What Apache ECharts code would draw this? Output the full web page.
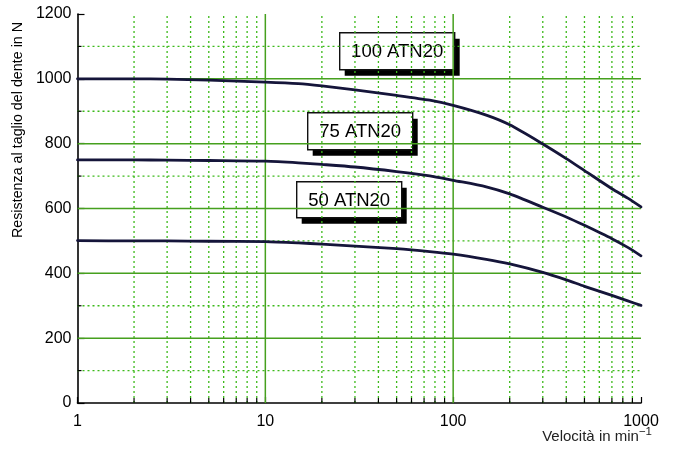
<!DOCTYPE html>
<html>
<head>
<meta charset="utf-8">
<script src="https://cdn.jsdelivr.net/npm/echarts@6/dist/echarts.min.js"></script>
<style>
  html, body { margin: 0; padding: 0; background: #fff; }
  #chart { width: 674px; height: 453px; }
</style>
</head>
<body>
<div id="chart"></div>
<script>
// Speed values (min^-1) where the curves are sampled
const speeds = [1, 2, 3, 5, 10, 15, 20, 30, 50, 75, 100, 150, 200, 300, 400, 500, 700, 850, 1000];

// Tooth shear resistance (N) per belt width
const atn100 = [1000, 1000, 999, 996, 990, 985, 978, 966, 949, 934, 918, 888, 858, 799, 754, 717, 661, 632, 605];
const atn75  = [750, 750, 749, 748, 746, 741, 736, 728, 714, 701, 687, 667, 645, 604, 574, 548, 507, 480, 454];
const atn50  = [501, 500, 500, 499, 498, 494, 490, 484, 476, 467, 459, 443, 429, 403, 380, 360, 332, 315, 301];

const seriesNames = ['100 ATN20', '75 ATN20', '50 ATN20'];

// Grid positions on the log / linear scales
const xMajor = [10, 100];
const xMinor = [2, 3, 4, 5, 6, 7, 8, 9, 20, 30, 40, 50, 60, 70, 80, 90, 200, 300, 400, 500, 600, 700, 800, 900];
const yMajor = [200, 400, 600, 800, 1000];
const yMinor = [100, 300, 500, 700, 900, 1100];
const xTicks = [1, 10, 100, 1000];

const X_MIN = 1, X_MAX = 1000, Y_MIN = 0, Y_MAX = 1200;
const MAJOR_GREEN = '#46a01e';
const MINOR_GREEN = '#3cba1a';
const CURVE = '#15153a';

const chart = echarts.init(document.getElementById('chart'), null, { renderer: 'canvas' });

function vLines(values, color, dash, width, tickLen) {
  return {
    type: 'custom',
    coordinateSystem: 'cartesian2d',
    silent: true,
    z: 1,
    data: values.map(v => [v, Y_MIN]),
    encode: { x: 0, y: 1 },
    renderItem: function (params, api) {
      const v = api.value(0);
      const a = api.coord([v, Y_MIN]);
      const b = api.coord([v, Y_MAX]);
      const children = [{
        type: 'line',
        shape: { x1: a[0], y1: a[1], x2: b[0], y2: b[1] },
        style: { stroke: color, lineWidth: width, lineDash: dash }
      }];
      if (tickLen) {
        children.push({
          type: 'line',
          shape: { x1: a[0], y1: a[1], x2: a[0], y2: a[1] - tickLen },
          style: { stroke: '#000', lineWidth: 1.2 },
          z2: 5
        });
      }
      return { type: 'group', children: children };
    }
  };
}

function hLines(values, color, dash, width, tickLen) {
  return {
    type: 'custom',
    coordinateSystem: 'cartesian2d',
    silent: true,
    z: 1,
    data: values.map(v => [X_MIN, v]),
    encode: { x: 0, y: 1 },
    renderItem: function (params, api) {
      const v = api.value(1);
      const a = api.coord([X_MIN, v]);
      const b = api.coord([X_MAX, v]);
      const children = [{
        type: 'line',
        shape: { x1: a[0], y1: a[1], x2: b[0], y2: b[1] },
        style: { stroke: color, lineWidth: width, lineDash: dash }
      }];
      if (tickLen) {
        children.push({
          type: 'line',
          shape: { x1: a[0], y1: a[1], x2: a[0] + tickLen, y2: a[1] },
          style: { stroke: '#000', lineWidth: 1.2 },
          z2: 5
        });
      }
      return { type: 'group', children: children };
    }
  };
}

function curve(name, values) {
  return {
    name: name,
    type: 'line',
    data: speeds.map((s, i) => [s, values[i]]),
    smooth: 0.25,
    showSymbol: false,
    z: 5,
    lineStyle: { color: CURVE, width: 2.8, join: 'round', cap: 'round' }
  };
}

// Boxed label with a hard drop shadow
function boxLabel(text, left, top, w, h) {
  return {
    type: 'group',
    left: left,
    top: top,
    z: 20,
    children: [
      { type: 'rect', shape: { x: 5, y: 6, width: w, height: h }, style: { fill: '#000' } },
      { type: 'rect', shape: { x: 0, y: 0, width: w, height: h }, style: { fill: '#fff', stroke: '#111', lineWidth: 1.4 } },
      {
        type: 'text',
        style: {
          text: text, x: w / 2, y: h / 2 + 1, align: 'center', verticalAlign: 'middle',
          font: '18.5px "Liberation Sans", Arial, sans-serif', fill: '#000'
        }
      }
    ]
  };
}

const option = {
  backgroundColor: '#fff',
  animation: false,
  grid: { left: 77.5, right: 33, top: 14, bottom: 50, containLabel: false },
  xAxis: {
    type: 'log',
    logBase: 10,
    min: X_MIN,
    max: X_MAX,
    axisLine: { show: true, lineStyle: { color: '#000', width: 1.6 } },
    axisTick: { show: true, inside: true, length: 6, lineStyle: { color: '#000', width: 1.2 } },
    splitLine: { show: false },
    axisLabel: {
      margin: 11,
      fontSize: 16,
      fontFamily: '"Liberation Sans", Arial, sans-serif',
      color: '#000',
      formatter: v => (xTicks.indexOf(Math.round(v)) >= 0 ? String(Math.round(v)) : '')
    }
  },
  yAxis: {
    type: 'value',
    min: Y_MIN,
    max: Y_MAX,
    interval: 200,
    axisLine: { show: true, lineStyle: { color: '#000', width: 1.6 } },
    axisTick: { show: true, inside: true, length: 7, lineStyle: { color: '#000', width: 1.2 } },
    splitLine: { show: false },
    axisLabel: {
      margin: 6,
      fontSize: 16,
      fontFamily: '"Liberation Sans", Arial, sans-serif',
      color: '#000',
      formatter: v => String(v)
    }
  },
  series: [
    vLines(xMinor, MINOR_GREEN, [2, 3], 1.3, 5),
    hLines(yMinor, MINOR_GREEN, [2, 3], 1.3, 4),
    vLines(xMajor, MAJOR_GREEN, null, 1.5, 0),
    hLines(yMajor, MAJOR_GREEN, null, 1.5, 0),
    curve(seriesNames[0], atn100),
    curve(seriesNames[1], atn75),
    curve(seriesNames[2], atn50)
  ],
  graphic: [
    boxLabel(seriesNames[0], 339, 32, 115, 37),
    boxLabel(seriesNames[1], 307, 112, 105, 37),
    boxLabel(seriesNames[2], 296, 181, 105, 36),
    {
      type: 'text',
      x: 18,
      y: 130,
      rotation: Math.PI / 2,
      z: 20,
      style: {
        text: 'Resistenza al taglio del dente in N',
        align: 'center',
        verticalAlign: 'middle',
        font: '14.3px "Liberation Sans", Arial, sans-serif',
        fill: '#000'
      }
    },
    {
      type: 'text',
      right: 22,
      top: 426,
      z: 20,
      style: {
        text: '{m|Velocità in min}{s|−1}',
        rich: {
          m: { font: '15px "Liberation Sans", Arial, sans-serif', fill: '#222', verticalAlign: 'bottom', lineHeight: 18 },
          s: { font: '11.5px "Liberation Sans", Arial, sans-serif', fill: '#222', verticalAlign: 'top', lineHeight: 18, padding: [0, 0, 6, 0] }
        }
      }
    }
  ]
};

chart.setOption(option);
</script>
</body>
</html>
